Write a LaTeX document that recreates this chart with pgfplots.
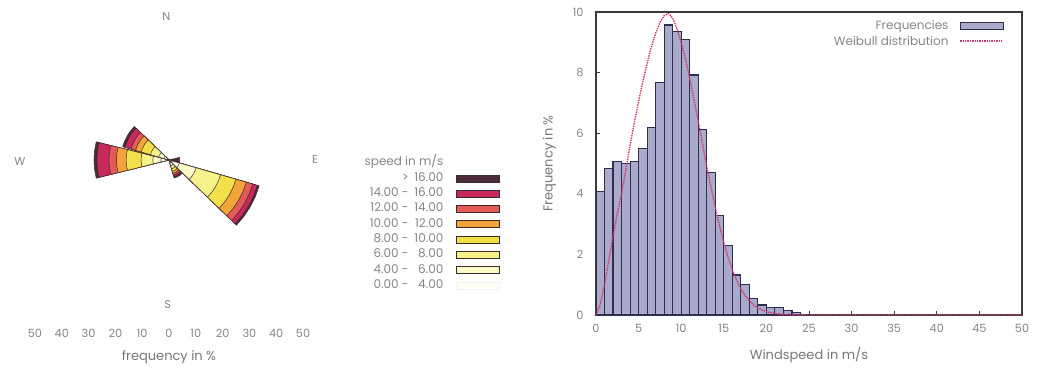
\documentclass[border=0pt]{standalone}
\usepackage{pgfplots}
\pgfplotsset{compat=1.18}
\usepackage{fontspec}
\setmainfont{Poppins}
\definecolor{txt}{HTML}{858585}
\definecolor{lbl}{HTML}{767676}
\definecolor{axisgray}{HTML}{3A3A3A}
\definecolor{barfill}{HTML}{AAAACB}
\definecolor{bardraw}{HTML}{2E2E4E}
\definecolor{weib}{HTML}{D2386A}
\definecolor{ringline}{HTML}{3A2A2A}
\definecolor{cA}{HTML}{4B2A3A}
\definecolor{cB}{HTML}{C8285A}
\definecolor{cC}{HTML}{E35A58}
\definecolor{cD}{HTML}{F2A33A}
\definecolor{cE}{HTML}{F2E04A}
\definecolor{cF}{HTML}{F5F28A}
\definecolor{cG}{HTML}{FAF9C8}
\definecolor{cH}{HTML}{FFFFF6}
\pgfplotsset{
  boxlegend/.style={legend image code/.code={\draw[##1] (0pt,-3.5pt) rectangle (43pt,3.5pt);}},
  linelegend/.style={legend image code/.code={\draw[weib, densely dotted, line width=1.4pt] (0pt,0pt) -- (43pt,0pt);}},
}
% one ring (filled sector) of the wind rose: five angles, radius, colour
\newcommand{\ring}[7]{\addplot[data cs=polar, fill=#7, draw=ringline, line width=0.5pt, forget plot]
  coordinates {(#1,0) (#1,#6) (#2,#6) (#3,#6) (#4,#6) (#5,#6) (#5,0)} -- cycle;}
\newcommand{\tf}{\fontsize{11.3}{13}\selectfont}
\newcommand{\lgf}{\fontsize{12}{14}\selectfont}
\newcommand{\lf}{\fontsize{13}{15}\selectfont}
\begin{document}
\begin{tikzpicture}[x=1pt,y=1pt]
\useasboundingbox (0,0) rectangle (1041,372);
% ---------------- wind rose ----------------
\begin{axis}[
  at={(21.6pt,51.2pt)}, anchor=south west, scale only axis,
  width=294.8pt, height=308.2pt,
  xmin=-55, xmax=55, ymin=-60, ymax=55,
  axis line style={draw=none}, tick style={draw=none},
  ytick=\empty,
  xtick={-50,-40,...,50},
  xticklabels={50,40,30,20,10,0,10,20,30,40,50},
  xticklabel style={font=\tf, text=txt, yshift=-5pt},
  xlabel={frequency in \%},
  xlabel style={font=\lf, text=lbl, yshift=-6pt},
  clip=false,
  legend plot pos=right,
  legend style={at={(axis cs:123.5,1.2)}, anchor=north east, draw=none, fill=none,
    inner sep=0pt, font=\lgf, text=txt, cells={anchor=east}, row sep=3.3pt, column sep=12pt,
    nodes={inner sep=1pt, text height=8pt, text depth=2pt}},
]
% sector ESE (bearing 120)
\ring{-44}{-37}{-30}{-23}{-16}{35.0}{cA}
\ring{-44}{-37}{-30}{-23}{-16}{34.3}{cB}
\ring{-44}{-37}{-30}{-23}{-16}{32.5}{cC}
\ring{-44}{-37}{-30}{-23}{-16}{30.0}{cD}
\ring{-44}{-37}{-30}{-23}{-16}{26.0}{cE}
\ring{-44}{-37}{-30}{-23}{-16}{20.0}{cF}
\ring{-44}{-37}{-30}{-23}{-16}{10.5}{cG}
\ring{-44}{-37}{-30}{-23}{-16}{4.0}{cH}
% sector W (bearing 270)
\ring{166}{173}{180}{187}{194}{28.0}{cA}
\ring{166}{173}{180}{187}{194}{26.9}{cB}
\ring{166}{173}{180}{187}{194}{22.4}{cC}
\ring{166}{173}{180}{187}{194}{19.6}{cD}
\ring{166}{173}{180}{187}{194}{16.0}{cE}
\ring{166}{173}{180}{187}{194}{10.4}{cF}
\ring{166}{173}{180}{187}{194}{6.0}{cG}
\ring{166}{173}{180}{187}{194}{3.0}{cH}
% sector WNW (bearing 300)
\ring{136}{143}{150}{157}{164}{18.0}{cA}
\ring{136}{143}{150}{157}{164}{17.1}{cB}
\ring{136}{143}{150}{157}{164}{14.8}{cC}
\ring{136}{143}{150}{157}{164}{13.0}{cD}
\ring{136}{143}{150}{157}{164}{10.8}{cE}
\ring{136}{143}{150}{157}{164}{7.2}{cF}
\ring{136}{143}{150}{157}{164}{4.0}{cG}
\ring{136}{143}{150}{157}{164}{2.0}{cH}
% sector SSE (bearing 150)
\ring{-74}{-67}{-60}{-53}{-46}{7.0}{cA}
\ring{-74}{-67}{-60}{-53}{-46}{6.4}{cB}
\ring{-74}{-67}{-60}{-53}{-46}{5.8}{cC}
\ring{-74}{-67}{-60}{-53}{-46}{5.2}{cD}
\ring{-74}{-67}{-60}{-53}{-46}{4.4}{cE}
\ring{-74}{-67}{-60}{-53}{-46}{3.4}{cF}
\ring{-74}{-67}{-60}{-53}{-46}{2.2}{cG}
\ring{-74}{-67}{-60}{-53}{-46}{1.0}{cH}
% sector E (bearing 90)
\ring{-14}{-7}{0}{7}{14}{4.0}{cA}
\ring{-14}{-7}{0}{7}{14}{1.4}{cB}
\ring{-14}{-7}{0}{7}{14}{1.1}{cC}
\ring{-14}{-7}{0}{7}{14}{0.8}{cD}
\ring{-14}{-7}{0}{7}{14}{0.6}{cE}
\ring{-14}{-7}{0}{7}{14}{0.4}{cF}
\ring{-14}{-7}{0}{7}{14}{0.3}{cG}
\ring{-14}{-7}{0}{7}{14}{0.2}{cH}
% compass letters
\node[font=\tf, text=txt] at (axis cs:-1,53.4) {N};
\node[font=\tf, text=txt] at (axis cs:-55.6,-0.5) {W};
\node[font=\tf, text=txt] at (axis cs:54.5,0) {E};
\node[font=\tf, text=txt] at (axis cs:-0.5,-54) {S};
% legend
\addlegendimage{empty legend}
\addlegendentry{speed in m/s}
\addlegendimage{boxlegend, fill=cA, draw=ringline}
\addlegendentry{\makebox[3.3em][r]{>}\makebox[2.9em][r]{16.00}}
\addlegendimage{boxlegend, fill=cB, draw=ringline}
\addlegendentry{\makebox[3.3em][r]{14.00 -}\makebox[2.9em][r]{16.00}}
\addlegendimage{boxlegend, fill=cC, draw=ringline}
\addlegendentry{\makebox[3.3em][r]{12.00 -}\makebox[2.9em][r]{14.00}}
\addlegendimage{boxlegend, fill=cD, draw=ringline}
\addlegendentry{\makebox[3.3em][r]{10.00 -}\makebox[2.9em][r]{12.00}}
\addlegendimage{boxlegend, fill=cE, draw=ringline}
\addlegendentry{\makebox[3.3em][r]{8.00 -}\makebox[2.9em][r]{10.00}}
\addlegendimage{boxlegend, fill=cF, draw=ringline}
\addlegendentry{\makebox[3.3em][r]{6.00 -}\makebox[2.9em][r]{8.00}}
\addlegendimage{boxlegend, fill=cG, draw=ringline}
\addlegendentry{\makebox[3.3em][r]{4.00 -}\makebox[2.9em][r]{6.00}}
\addlegendimage{boxlegend, fill=cH, draw=white!95!black}
\addlegendentry{\makebox[3.3em][r]{0.00 -}\makebox[2.9em][r]{4.00}}
\end{axis}
% ---------------- histogram ----------------
\begin{axis}[
  at={(596pt,57pt)}, anchor=south west, scale only axis,
  width=426pt, height=303pt,
  xmin=0, xmax=50, ymin=0, ymax=10,
  xtick={0,5,...,50}, ytick={0,2,...,10},
  tick align=inside, xtick pos=bottom, ytick pos=left, major tick length=4pt,
  axis line style={draw=axisgray, line width=1.3pt},
  tick style={draw=axisgray, line width=0.8pt},
  ticklabel style={font=\tf, text=txt},
  yticklabel style={xshift=-9pt},
  xticklabel style={yshift=-6pt},
  /pgf/number format/assume math mode=true,
  xlabel={Windspeed in m/s}, ylabel={Frequency in \%},
  xlabel style={font=\lf, text=lbl, yshift=-7pt},
  ylabel style={font=\lf, text=lbl, yshift=10pt},
  legend plot pos=right,
  legend style={at={(rel axis cs:0.965,0.985)}, anchor=north east, draw=none, fill=none,
    font=\lgf, text=txt, cells={anchor=east}, row sep=0.5pt, column sep=9pt},
]
\addplot[ybar interval, fill=barfill, draw=bardraw, line width=1.1pt, boxlegend] coordinates {
(0,4.09) (1,4.84) (2,5.07) (3,5.00) (4,5.07) (5,5.50) (6,6.18) (7,7.67) (8,9.57) (9,9.35)
(10,9.10) (11,7.92) (12,6.13) (13,4.71) (14,3.27) (15,2.28) (16,1.32) (17,1.02) (18,0.55) (19,0.33)
(20,0.25) (21,0.25) (22,0.15) (23,0.08) (24,0.03) (25,0)};
\addlegendentry{Frequencies}
\addplot[weib, densely dotted, line width=1.4pt, linelegend] coordinates {
(0,0) (0.5,0.35) (1,1.0) (1.5,1.8) (2,2.6) (2.5,3.35) (3,4.0) (3.5,4.8) (4,5.6) (4.5,6.35)
(5,7.05) (5.5,7.7) (6,8.3) (6.5,8.85) (7,9.3) (7.5,9.65) (8,9.88) (8.5,9.95) (9,9.8) (9.5,9.45)
(10,9.0) (10.5,8.45) (11,7.8) (11.5,7.1) (12,6.4) (12.5,5.65) (13,4.9) (13.5,4.2) (14,3.55) (14.5,2.95)
(15,2.4) (15.5,1.9) (16,1.5) (16.5,1.15) (17,0.87) (17.5,0.64) (18,0.47) (18.5,0.33) (19,0.23) (20,0.11)
(21,0.05) (22,0.02) (23,0.01) (25,0) (50,0)};
\addlegendentry{Weibull distribution}
\end{axis}
\end{tikzpicture}
\end{document}
